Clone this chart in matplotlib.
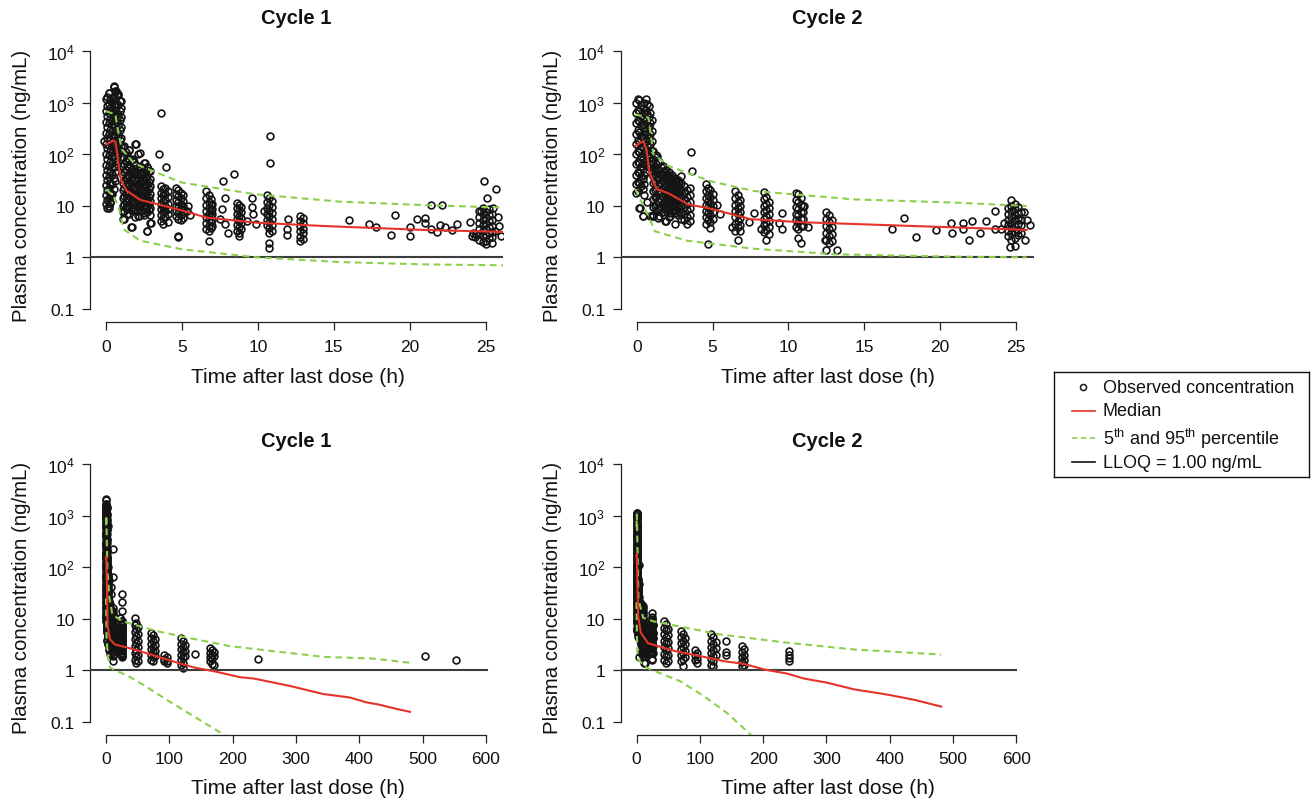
import matplotlib
matplotlib.use("Agg")
import matplotlib.pyplot as plt

plt.rcParams['font.family'] = ['Liberation Sans', 'DejaVu Sans']
plt.rcParams['mathtext.fontset'] = 'custom'
plt.rcParams['mathtext.rm'] = 'Liberation Sans'
plt.rcParams['mathtext.it'] = 'Liberation Sans:italic'
plt.rcParams['mathtext.bf'] = 'Liberation Sans:bold'

# ---------------- data ----------------
# Cycle 1 observed concentrations (ng/mL), columns of samples at a time (h)
c1_early_col_t = [-0.02, 0.08, 0.18, 0.28, 0.38, 0.48, 0.58, 0.68, 0.78, 0.88, 0.98,
                  1.1, 1.3, 1.5, 1.7, 1.9, 2.1, 2.3, 2.5, 2.7, 2.9,
                  1.2, 1.4, 1.6, 1.8, 2.0, 2.2, 2.4, 2.6, 2.8,
                  3.6, 3.75, 3.9, 4.05,
                  4.6, 4.75, 4.9, 5.05,
                  6.6, 6.75, 6.9, 7.0,
                  8.6, 8.75, 8.9,
                  10.6, 10.75, 10.9,
                  12.8, 12.95,
                  24.6, 24.8, 25.0, 25.2, 25.4]
c1_early_col_c = [
    [1150, 700, 420, 260, 160, 100, 62, 40, 25, 16, 11],
    [1300, 850, 550, 330, 210, 130, 80, 50, 32, 20, 13, 9],
    [1550, 950, 620, 400, 250, 150, 95, 58, 36, 22, 14, 10],
    [1200, 780, 480, 300, 190, 115, 70, 45, 28, 18, 12],
    [1000, 650, 440, 280, 175, 110, 68, 42, 26, 17],
    [2050, 1350, 900, 600, 380, 240, 150, 92, 56, 34, 21],
    [1650, 1100, 720, 460, 300, 190, 120, 75, 46, 30],
    [1450, 950, 640, 420, 270, 170, 105, 65],
    [1400, 880, 560, 360, 230, 150, 95],
    [1050, 700, 450, 290, 190, 120],
    [800, 520, 330, 210, 140, 90, 60],
    [140, 90, 60, 40, 28, 20, 14, 10, 7.5, 5.5],
    [110, 75, 50, 34, 24, 17, 12, 9],
    [120, 80, 55, 38, 26, 18, 13, 9.5, 7],
    [78, 52, 36, 25, 18, 13, 9.5, 3.9],
    [160, 62, 44, 31, 22, 16, 11.5, 8.5, 6],
    [100, 50, 35, 25, 18, 13, 9.5, 6.3],
    [55, 40, 29, 21, 15, 11, 8],
    [68, 45, 32, 23, 16.5, 12, 8.8, 6.5],
    [57, 38, 27, 19.5, 14, 10, 7.4, 3.2],
    [47, 33, 24, 17, 12.5, 9, 6.5, 4.7],
    [65, 45, 31, 22, 15.5, 11, 8],
    [85, 58, 40, 28, 19.5, 14, 10, 7],
    [46, 32, 22.5, 16, 11.5, 8.2],
    [70, 48, 33, 23, 16.5, 12, 8.8],
    [42, 30, 21, 15, 10.8, 7.8],
    [60, 43, 30, 21.5, 15.5, 11],
    [36, 26, 19, 13.5, 9.8, 7.2],
    [50, 34, 24.5, 17.5, 12.5, 9.2],
    [29, 21, 15, 11, 8.2],
    [24, 18, 14, 11, 8.5, 6.5, 5],
    [21, 16, 12.5, 9.5, 7.5, 5.8, 4.4],
    [22, 17, 13, 10, 8, 6],
    [19, 14.5, 11, 8.8, 6.8, 4.8],
    [22, 17, 13, 10, 8, 6.2],
    [20, 15.5, 12, 9.5, 7.3, 5.6, 2.5],
    [18, 14, 11, 8.5, 6.5, 5.2],
    [16, 12.5, 9.8, 7.6, 5.9],
    [19, 14, 10.5, 8, 6, 4.6, 3.5],
    [16, 12, 9.2, 7, 5.3, 4.1, 3.2, 2.1],
    [13.5, 10.5, 8, 6.2, 4.8, 3.7],
    [11, 8.7, 6.8, 5.2, 4.0],
    [11.5, 9, 7, 5.5, 4.3, 3.3],
    [10.5, 8.2, 6.4, 5, 3.9, 3.0, 2.6],
    [9.5, 7.5, 5.8, 4.6, 3.5],
    [16, 12, 9.2, 7, 5.4, 4.2],
    [14, 10.5, 8, 6.2, 4.8, 3.7, 2.9, 1.9, 1.54],
    [12.5, 9.5, 7.2, 5.5, 4.3, 3.3],
    [6.3, 5.0, 4.0, 3.2, 2.5, 2.1],
    [5.8, 4.6, 3.6, 2.9, 2.3],
    [8, 6, 4.6, 3.6, 2.8, 2.2],
    [9, 7, 5.4, 4.2, 3.3, 2.6, 2.0],
    [7.5, 5.8, 4.5, 3.5, 2.7, 2.1, 1.8],
    [8.5, 6.5, 5.0, 3.9, 3.0, 2.4],
    [6.8, 5.2, 4.0, 3.1, 2.5]]
c1_scatter_t = [-0.15, 0.53, 0.15, 0.77, 0.62, 0.97, 0.35, 0.15, 0.25, 0.3,
                1.2, 1.47, 1.96, 1.74, 1.4, 2.2, 2.53, 2.68, 2.84, 2.24, 2.35,
                1.14, 1.65, 2.13, 2.68, 2.97, 3.6, 3.5, 3.96,
                4.7, 5.3, 5.5, 5.4, 7.7, 8.4, 7.8, 7.6, 8.0, 7.8, 7.5,
                9.6, 9.6, 9.7, 9.9, 9.3, 10.8, 10.8, 10.4, 12.0, 11.9, 11.9,
                16.0, 17.3, 17.8, 18.8, 19.0, 20.0, 20.0, 20.5, 21.0, 21.0, 21.4, 22.1,
                21.4, 21.8, 22.0, 22.3, 22.8, 23.1,
                24.0, 24.1, 24.2, 24.3, 24.4, 24.9, 25.7, 25.1, 25.5, 24.7, 26.0, 25.4,
                25.8, 25.9, 25.6]
c1_scatter_c = [180, 2090, 1550, 1440, 1670, 1070, 1240, 9.2, 11.5, 16.6,
                144, 118, 160, 79, 95, 104, 68, 57, 47, 55, 41,
                5.5, 3.8, 6.3, 3.2, 4.7, 635, 100, 56,
                2.6, 7.9, 6.5, 10, 30, 42, 14, 8.8, 3.0, 4.5, 5.5,
                14.3, 9.6, 6.8, 4.4, 5.0, 224, 66, 8, 5.6, 3.6, 2.7,
                5.2, 4.4, 3.8, 2.7, 6.5, 3.8, 2.6, 5.6, 5.9, 4.6, 10.3, 10.3,
                3.6, 3.1, 4.2, 3.8, 3.4, 4.4,
                4.8, 2.6, 3.0, 2.5, 2.8, 30, 21.4, 14.3, 9.2, 7.9, 2.6, 1.87,
                6.0, 4.0, 3.3]
c1_late_col_t = [45, 48, 50, 71, 74, 77, 92, 97, 118, 122, 125, 141, 164, 168, 171, 240, 504, 552]
c1_late_col_c = [[10.5, 7.5, 5.5, 4, 3, 2.2, 1.6], [8.5, 6.3, 4.6, 3.4, 2.5, 1.9, 1.4],
                 [7, 5, 3.7, 2.8, 2.0, 1.5], [5.4, 4.2, 3.3, 2.6, 2.0, 1.6],
                 [4.8, 3.7, 2.9, 2.3, 1.8, 1.5], [4.0, 3.1, 2.4, 1.9],
                 [2.0, 1.7, 1.5], [1.8, 1.5, 1.4],
                 [4.3, 3.3, 2.6, 2.0, 1.6, 1.25], [3.8, 2.9, 2.3, 1.8, 1.4, 1.13], [3.1, 2.4, 1.9],
                 [2.1], [2.75, 2.2, 1.8, 1.5], [2.5, 2.0, 1.65, 1.35], [2.3, 1.9, 1.3],
                 [1.7], [1.87], [1.58]]

# Cycle 2 observed concentrations
c2_early_col_t = [-0.02, 0.08, 0.18, 0.28, 0.38, 0.48, 0.58, 0.68, 0.78, 0.88, 0.98,
                  1.1, 1.3, 1.5, 1.7, 1.9, 2.1, 2.3, 2.5, 2.7, 2.9, 3.1, 3.3, 3.5,
                  1.2, 1.4, 1.6, 1.8, 2.0, 2.2, 2.4, 2.6, 2.8,
                  4.55, 4.7, 4.85, 5.0,
                  6.5, 6.65, 6.8,
                  8.4, 8.55, 8.7,
                  10.5, 10.65, 10.8, 10.95,
                  12.5, 12.7, 12.9,
                  24.5, 24.7, 24.9, 25.1, 25.3]
c2_early_col_c = [
    [1000, 640, 400, 250, 160, 100, 64, 40, 26, 18],
    [1150, 720, 460, 290, 185, 115, 72, 46, 29, 19],
    [1100, 680, 430, 270, 170, 108, 68, 43, 28, 9],
    [900, 560, 360, 230, 145, 92, 58, 37, 24],
    [800, 500, 320, 205, 130, 82, 52, 33, 21, 6.3],
    [1000, 620, 390, 250, 160, 100, 64, 40, 26, 16],
    [1150, 720, 450, 285, 180, 115, 72, 45],
    [950, 600, 380, 240, 150, 95, 60, 12],
    [850, 530, 335, 210, 135, 85],
    [620, 400, 250, 160, 100, 65],
    [450, 280, 180, 115, 75, 48, 6.3],
    [115, 80, 55, 38, 27, 19, 13.5, 9.5, 6.5],
    [95, 65, 45, 32, 22, 15.5, 11, 8],
    [70, 50, 35, 25, 17.5, 12.5, 9, 6.3],
    [60, 42, 30, 21, 15, 10.5, 7.5],
    [50, 36, 26, 18.5, 13, 9.2, 5.0],
    [45, 32, 23, 16.5, 12, 8.5, 6],
    [40, 29, 21, 15, 11, 8],
    [35, 26, 19, 14, 10, 7.3, 4.5],
    [32, 23, 17, 12.5, 9, 6.6],
    [38, 27, 20, 14.5, 10.5, 7.7, 5.6],
    [24, 17.5, 13, 9.5, 7, 5.2],
    [20, 15, 11, 8.2, 6, 4.4],
    [22, 16, 12, 9, 6.6, 5],
    [88, 60, 42, 29, 20, 14.5, 10],
    [75, 52, 36, 25, 17.5, 12.5, 8.8],
    [56, 39, 27, 19, 13.5, 9.6],
    [48, 34, 24, 17, 12, 8.6],
    [42, 30, 21, 15, 10.6, 7.4],
    [37, 27, 19.5, 14, 10, 7.1],
    [33, 24, 17, 12.3, 8.8],
    [30, 21.5, 15.5, 11.3, 8.2],
    [27, 19.5, 14, 10.2, 7.4],
    [26, 19, 14, 10.5, 8, 6, 4.5],
    [22, 16.5, 12.5, 9.5, 7.2, 5.4, 1.8],
    [20, 15, 11.5, 8.6, 6.5, 4.9, 3.7],
    [17, 13, 9.8, 7.4, 5.6],
    [19.4, 14, 10.5, 8, 6, 4.5, 3.3],
    [16, 12, 9, 6.8, 5.1, 3.8, 2.2],
    [13, 10, 7.6, 5.7, 4.3, 3.2],
    [18.5, 13.5, 10, 7.5, 5.6, 4.2, 3.1],
    [15, 11, 8.3, 6.2, 4.6, 3.4, 2.2],
    [12, 9, 6.8, 5.1, 3.8, 2.8],
    [18, 13, 9.5, 7, 5.2, 3.9],
    [16.6, 12, 8.8, 6.5, 4.8, 3.5, 2.4],
    [14, 10.2, 7.5, 5.5, 4.1, 1.9],
    [10, 7.4, 5.5, 4.0],
    [7.6, 5.5, 4.0, 2.9, 2.2, 1.4],
    [6.5, 4.8, 3.5, 2.6, 1.9],
    [5.2, 3.8, 2.8, 2.1],
    [9, 7, 5.4, 4.2, 3.3, 2.6],
    [13, 10, 7.8, 6, 4.7, 3.7, 2.9, 2.2],
    [11, 8.6, 6.7, 5.2, 4.0, 3.1, 2.4, 1.66],
    [9.5, 7.3, 5.7, 4.4, 3.4, 2.7],
    [7.7, 5.3, 4.2, 3.0]]
c2_scatter_t = [0.44, 0.11, 0.88, 0.22, 1.1, 1.88, 1.43, 2.2,
                1.32, 1.43, 1.2, 1.66, 2.1, 2.54, 3.58, 3.64,
                5.3, 5.5, 6.3, 7.4, 7.7, 8.2, 9.6, 9.6, 9.4, 11.0, 11.3, 12.4, 13.2,
                16.8, 17.6, 18.4, 19.7, 20.7, 20.8, 21.5, 21.5, 22.1, 21.9, 22.6, 23.0,
                23.6, 23.6, 24.2, 25.5, 25.7, 25.9, 25.6, 24.6, 24.0]
c2_scatter_c = [6.3, 19, 6.3, 9.2, 6.3, 5.0, 5.8, 6.3,
                92, 74, 51, 40, 35, 28, 110, 47,
                10.3, 6.8, 3.8, 4.8, 7.1, 3.6, 7.1, 3.5, 4.6, 10, 3.9, 2.2, 1.4,
                3.6, 5.8, 2.5, 3.4, 4.7, 3.0, 4.7, 3.6, 5.0, 2.2, 2.9, 5.0,
                7.9, 3.6, 4.7, 7.7, 5.3, 4.2, 2.2, 1.6, 3.5]
c2_late_col_t = [44, 47, 50, 70, 73, 76, 92, 96, 117, 121, 125, 141, 166, 170, 241]
c2_late_col_c = [[9.1, 6.8, 5.1, 3.8, 2.8, 2.1, 1.6], [8, 6, 4.5, 3.4, 2.5, 1.9, 1.4],
                 [6.5, 4.8, 3.6, 2.7, 2.0, 1.5], [5.8, 4.4, 3.4, 2.6, 2.0, 1.5],
                 [5.0, 3.8, 2.9, 2.2, 1.7, 1.2], [4.2, 3.2, 2.4, 1.8],
                 [2.55, 2.0, 1.6], [2.2, 1.7, 1.4],
                 [5.0, 3.8, 2.9, 2.2, 1.7, 1.3], [4.4, 3.3, 2.5, 1.9, 1.5, 1.2], [3.5, 2.7, 2.0],
                 [3.7, 2.3, 2.0], [2.95, 2.3, 1.8, 1.45, 1.2], [2.6, 2.0, 1.6, 1.3],
                 [2.35, 2.0, 1.75, 1.5]]

# Simulated median and 5th/95th percentiles, 0-26 h view
c1_short_med_t = [0, 0.25, 0.48, 0.62, 0.72, 0.85, 1.0, 1.35, 2.24, 5, 6.6, 9.9, 14.3, 20.9, 26.2]
c1_short_med_c = [155, 170, 185, 165, 105, 50, 30, 19.5, 13, 8.1, 5.9, 4.7, 4.05, 3.4, 3.1]
c1_short_p95_t = [0, 0.6, 0.8, 1.03, 1.8, 2.24, 5, 9.9, 15.4, 20.9, 26.2]
c1_short_p95_c = [680, 590, 260, 124, 68, 59, 28, 16.6, 12, 10.3, 9.2]
c1_short_p05_t = [0, 0.5, 0.8, 1.14, 2.24, 5, 9.9, 15.4, 20.9, 26.2]
c1_short_p05_c = [21, 15, 9.9, 3.5, 2.1, 1.43, 1.0, 0.81, 0.73, 0.70]

c2_short_med_t = [-0.1, 0.44, 0.65, 0.84, 1.32, 2.1, 3.4, 4.85, 7.5, 10.8, 16.6, 21, 25.7]
c2_short_med_c = [144, 180, 120, 44, 21, 17.4, 10.6, 8.8, 5.5, 4.8, 4.2, 3.8, 3.4]
c2_short_p95_t = [-0.1, 0.77, 1.1, 2.1, 4.85, 7.7, 14.3, 21, 25.7]
c2_short_p95_c = [590, 510, 100, 59, 30, 19.3, 13.3, 11.5, 9.9]
c2_short_p05_t = [-0.1, 0.77, 1.2, 3.3, 7.7, 13.2, 21, 25.7]
c2_short_p05_c = [21, 6.3, 3.2, 2.1, 1.47, 1.14, 1.03, 1.0]

# 0-600 h view
c1_long_med_t = [0, 0.4, 1.5, 2.6, 6.3, 14, 35, 62, 88, 114, 141, 170, 212, 233, 291, 343, 385, 412, 430, 459, 480]
c1_long_med_c = [150, 160, 40, 7.2, 4.0, 3.2, 2.75, 2.2, 1.76, 1.4, 1.13, 0.97, 0.74, 0.70, 0.50, 0.35, 0.30, 0.24, 0.22, 0.18, 0.158]
c1_long_p95_t = [0, 0.5, 2, 5, 10, 24.7, 80, 138, 196, 264, 343, 422, 480]
c1_long_p95_c = [650, 1000, 100, 27, 12.2, 9.1, 5.8, 4.1, 2.96, 2.37, 1.84, 1.7, 1.41]
c1_long_p05_t = [0, 1, 3, 6.3, 35, 62, 96, 148, 185, 200]
c1_long_p05_c = [25, 4, 1.8, 1.13, 0.78, 0.50, 0.27, 0.11, 0.058, 0.045]

c2_long_med_t = [0, 0.4, 1.5, 2.6, 6.8, 18, 34, 61, 87, 114, 140, 169, 201, 238, 264, 301, 344, 397, 439, 481]
c2_long_med_c = [170, 178, 40, 11.3, 5.4, 3.4, 2.96, 2.37, 2.04, 1.76, 1.5, 1.35, 1.05, 0.87, 0.70, 0.58, 0.43, 0.34, 0.27, 0.20]
c2_long_p95_t = [0, 0.5, 3, 10.5, 26, 79, 132, 238, 344, 481]
c2_long_p95_c = [600, 1050, 24, 10.5, 9, 6.7, 5.0, 3.45, 2.55, 2.04]
c2_long_p05_t = [0, 1, 3, 16, 42, 69, 106, 143, 177, 190]
c2_long_p05_c = [21, 2.5, 1.6, 1.13, 0.84, 0.62, 0.32, 0.15, 0.062, 0.045]

lloq = 1.0
y_ticks = [0.1, 1, 10, 100, 1000, 10000]
y_tick_labels = ['0.1', '1', '10', '$10^2$', '$10^3$', '$10^4$']
x_ticks_short = [0, 5, 10, 15, 20, 25]
x_ticks_long = [0, 100, 200, 300, 400, 500, 600]
titles = ['Cycle 1', 'Cycle 2', 'Cycle 1', 'Cycle 2']
x_label = 'Time after last dose (h)'
y_label = 'Plasma concentration (ng/mL)'
legend_labels = ['Observed concentration', 'Median',
                 '5$^{\\rm th}$ and 95$^{\\rm th}$ percentile', 'LLOQ = 1.00 ng/mL']


def expand(col_t, col_c, sc_t=(), sc_c=()):
    ts, cs = [], []
    for t, cl in zip(col_t, col_c):
        ts += [t] * len(cl)
        cs += list(cl)
    return ts + list(sc_t), cs + list(sc_c)


c1_t, c1_c = expand(c1_early_col_t + c1_late_col_t, c1_early_col_c + c1_late_col_c,
                    c1_scatter_t, c1_scatter_c)
c2_t, c2_c = expand(c2_early_col_t + c2_late_col_t, c2_early_col_c + c2_late_col_c,
                    c2_scatter_t, c2_scatter_c)

# ---------------- figure ----------------
W, H = 1312, 803
fig = plt.figure(figsize=(W / 100, H / 100), dpi=100)

RED = '#e5332a'
GREEN = '#8ccf4d'
LLOQ_C = '#3c3c3c'
PT_C = '#141414'
AX_C = '#222222'
MS = 4.9
MEW = 1.2


def add_px_axes(left, top, right, bottom):
    return fig.add_axes([left / W, 1 - bottom / H, (right - left) / W, (bottom - top) / H])


panels = [
    dict(box=(90, 41.7, 503, 323.3), xlim=(-1.07, 26.15), xt=x_ticks_short, lx=26.15,
         obs=(c1_t, c1_c), med=(c1_short_med_t, c1_short_med_c),
         p95=(c1_short_p95_t, c1_short_p95_c), p05=(c1_short_p05_t, c1_short_p05_c),
         ylow=-1.26, title_y=18, xl_y=378, yl_c=(22, 186)),
    dict(box=(620.5, 41.7, 1033.5, 323.3), xlim=(-1.07, 26.15), xt=x_ticks_short, lx=26.15,
         obs=(c2_t, c2_c), med=(c2_short_med_t, c2_short_med_c),
         p95=(c2_short_p95_t, c2_short_p95_c), p05=(c2_short_p05_t, c2_short_p05_c),
         ylow=-1.26, title_y=18, xl_y=378, yl_c=(552, 186)),
    dict(box=(90, 454.7, 503, 735.5), xlim=(-25.3, 626.9), xt=x_ticks_long, lx=602,
         obs=(c1_t, c1_c), med=(c1_long_med_t, c1_long_med_c),
         p95=(c1_long_p95_t, c1_long_p95_c), p05=(c1_long_p05_t, c1_long_p05_c),
         ylow=-1.24, title_y=442, xl_y=789, yl_c=(22, 598)),
    dict(box=(620.5, 454.7, 1033.5, 735.5), xlim=(-25.3, 626.9), xt=x_ticks_long, lx=600,
         obs=(c2_t, c2_c), med=(c2_long_med_t, c2_long_med_c),
         p95=(c2_long_p95_t, c2_long_p95_c), p05=(c2_long_p05_t, c2_long_p05_c),
         ylow=-1.24, title_y=442, xl_y=789, yl_c=(552, 598)),
]

for p, title in zip(panels, titles):
    l, t, r, b = p['box']
    ax = add_px_axes(l, t, r, b)
    ax.set_yscale('log')
    ax.set_xlim(*p['xlim'])
    ax.set_ylim(10 ** p['ylow'], 10 ** 4.2)
    ax.patch.set_alpha(0)
    ax.plot(p['obs'][0], p['obs'][1], linestyle='none', marker='o', ms=MS,
            mfc='none', mec=PT_C, mew=MEW, zorder=2)
    ax.plot([p['xlim'][0], p['lx']], [lloq, lloq], color=LLOQ_C, lw=1.5, zorder=3)
    ax.plot(p['p95'][0], p['p95'][1], color=GREEN, lw=1.5, ls=(0, (3.2, 2.2)), zorder=4)
    ax.plot(p['p05'][0], p['p05'][1], color=GREEN, lw=1.5, ls=(0, (3.2, 2.2)), zorder=4)
    ax.plot(p['med'][0], p['med'][1], color=RED, lw=1.5, zorder=5)
    for s in ('top', 'right'):
        ax.spines[s].set_visible(False)
    for s in ('left', 'bottom'):
        ax.spines[s].set_color(AX_C)
        ax.spines[s].set_linewidth(0.9)
    ax.spines['left'].set_bounds(0.1, 10000)
    ax.spines['bottom'].set_bounds(p['xt'][0], p['xt'][-1])
    ax.set_yticks(y_ticks)
    ax.set_yticklabels(y_tick_labels)
    ax.yaxis.set_minor_locator(matplotlib.ticker.NullLocator())
    ax.set_xticks(p['xt'])
    ax.set_xticklabels([str(v) for v in p['xt']])
    ax.tick_params(axis='both', direction='out', length=6, width=0.9, color=AX_C,
                   labelsize=12.5, labelcolor='#111111')
    ax.tick_params(axis='y', pad=5)
    ax.tick_params(axis='x', pad=6)
    cx = (l + r) / 2
    fig.text(cx / W, 1 - p['title_y'] / H, title, ha='center', va='center',
             fontsize=14.5, fontweight='bold', color='#111111')
    fig.text((cx + 1) / W, 1 - p['xl_y'] / H, x_label, ha='center', va='center',
             fontsize=15, color='#111111')
    fig.text(p['yl_c'][0] / W, 1 - p['yl_c'][1] / H, y_label, ha='center', va='center',
             rotation=90, fontsize=14.7, color='#111111')

# ---------------- legend (drawn in its own pixel-space axes) ----------------
lg_l, lg_t, lg_r, lg_b = 1054, 372.7, 1309.3, 478.3
lax = add_px_axes(lg_l, lg_t, lg_r, lg_b)
lax.set_xlim(0, lg_r - lg_l)
lax.set_ylim(lg_b - lg_t, 0)
lax.set_xticks([])
lax.set_yticks([])
for s in lax.spines.values():
    s.set_color('#111111')
    s.set_linewidth(1.0)
rows_y = [15.6, 39.0, 66.6, 90.6]
lax.plot([29.3], [rows_y[0]], marker='o', ms=4.4, mfc='none', mec=PT_C, mew=1.1)
lax.plot([17.7, 41], [rows_y[1]] * 2, color=RED, lw=1.2)
lax.plot([17.7, 41], [rows_y[2]] * 2, color=GREEN, lw=1.2, ls=(0, (3.2, 2.2)))
lax.plot([17.7, 41], [rows_y[3]] * 2, color='#111111', lw=1.2)
for y, lab in zip(rows_y, legend_labels):
    lax.text(49, y, lab, ha='left', va='center', fontsize=13, color='#111111')

fig.savefig('out.png', dpi=100)
